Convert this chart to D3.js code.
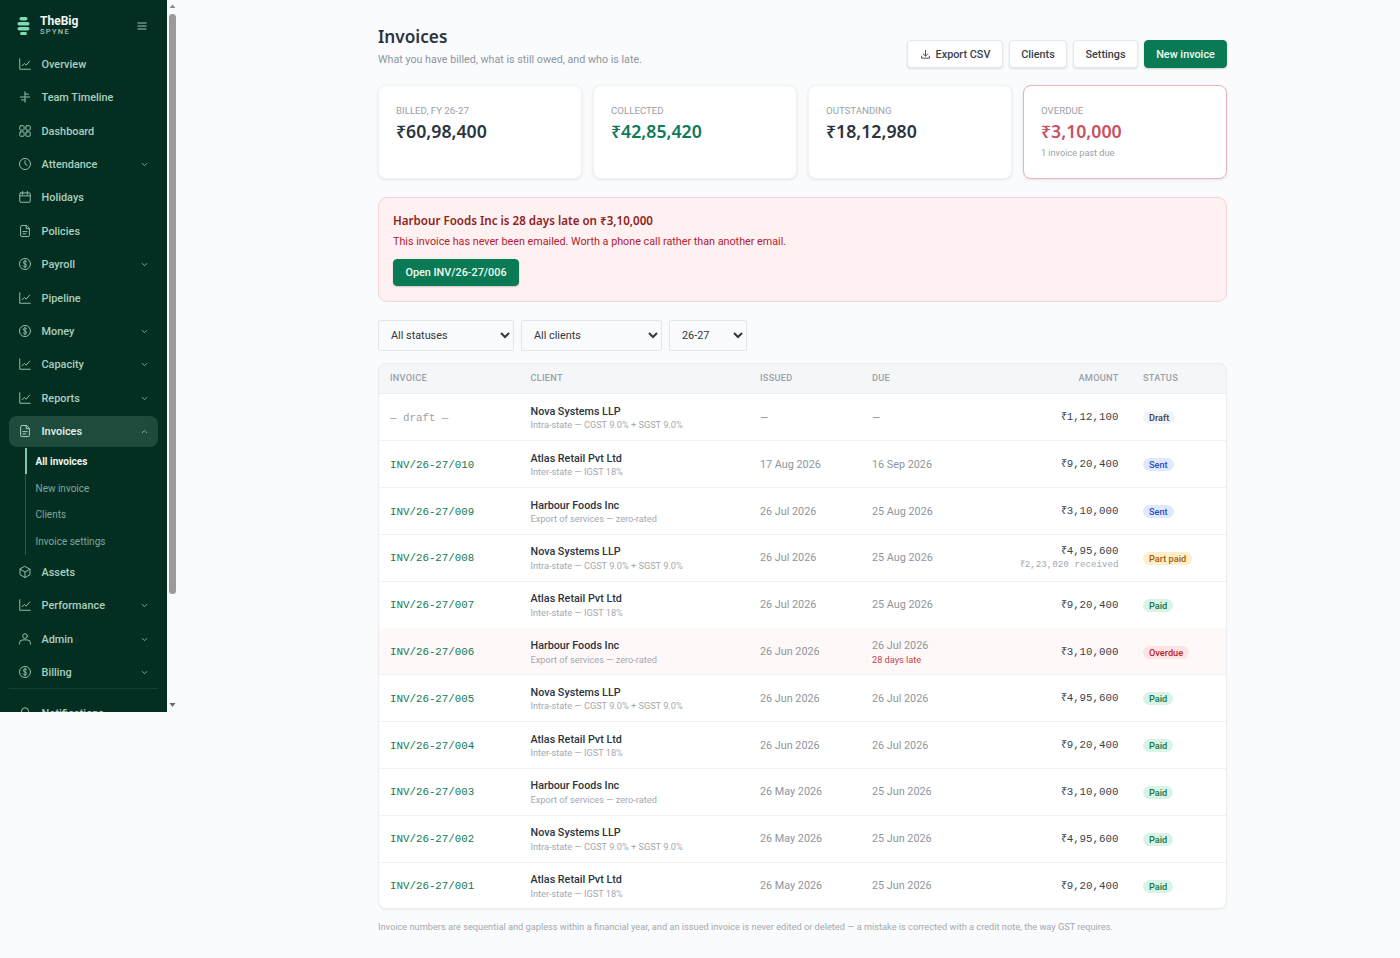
<!DOCTYPE html>
<html><head><meta charset="utf-8">
<script src="https://cdn.jsdelivr.net/npm/d3@7"></script>
<style>
html,body{margin:0;padding:0;background:#fafbfc;width:1400px;height:958px;overflow:hidden;font-family:Roboto,sans-serif;}
#page{position:relative;width:1400px;height:958px;background:#fafbfc;overflow:hidden}
.abs{position:absolute;white-space:nowrap;line-height:1}
#side{position:absolute;left:0;top:0;width:167px;height:712px;background:#052e22;overflow:hidden}
#track{position:absolute;left:167px;top:0;width:10px;height:712px}
#thumb{position:absolute;left:169px;top:14px;width:7px;height:580px;background:#9a9a9a;border-radius:4px}
.card{position:absolute;background:#fff;border-radius:8px;box-shadow:0 1px 3px rgba(16,24,40,.10);box-sizing:border-box}
.btn{position:absolute;box-sizing:border-box;background:#fff;border-radius:4px;border:1px solid #e6e9ec;box-shadow:0 1px 2px rgba(16,24,40,.14);font:500 10.85px Roboto;color:#3a424d;display:flex;align-items:center;justify-content:center;gap:5px}
.btn.green{background:#0a7a55;border-color:#0a7a55;color:#f0fbf6;box-shadow:0 1px 2px rgba(16,24,40,.2)}
select{position:absolute;box-sizing:border-box;height:31px;background:#fafbfc;border:1px solid #e4e7ea;border-radius:2px;font:400 10.85px Roboto;color:#2f3740;padding:0 0 1px 8px;top:320px}
</style></head><body><div id="page"><div id="side"></div><div id="track"></div><div id="thumb"></div><div id="main"></div></div>
<script>
// ---------- data ----------
const navLabels=["Overview","Team Timeline","Dashboard","Attendance","Holidays","Policies","Payroll","Pipeline","Money","Capacity","Reports","Invoices"];
const navIcons=["chart","timeline","grid","clock","calendar","doc","dollar","chart","dollar","chart","chart","doc"];
const navCaret=[0,0,0,1,0,0,1,0,1,1,1,2];
const subLabels=["All invoices","New invoice","Clients","Invoice settings"];
const navLabels2=["Assets","Performance","Admin","Billing","Notifications"];
const navIcons2=["box","chart","user","dollar","bell"];
const navCaret2=[0,1,1,1,0];
const kpiLabels=["BILLED, FY 26-27","COLLECTED","OUTSTANDING","OVERDUE"];
const kpiValues=[6098400,4285420,1812980,310000];
const kpiColors=["#2b3440","#0f7a58","#2b3440","#c9505f"];
const columns=["INVOICE","CLIENT","ISSUED","DUE","AMOUNT","STATUS"];
const invoiceNos=["— draft —","INV/26-27/010","INV/26-27/009","INV/26-27/008","INV/26-27/007","INV/26-27/006","INV/26-27/005","INV/26-27/004","INV/26-27/003","INV/26-27/002","INV/26-27/001"];
const clients=["Nova Systems LLP","Atlas Retail Pvt Ltd","Harbour Foods Inc","Nova Systems LLP","Atlas Retail Pvt Ltd","Harbour Foods Inc","Nova Systems LLP","Atlas Retail Pvt Ltd","Harbour Foods Inc","Nova Systems LLP","Atlas Retail Pvt Ltd"];
const taxNotes=["Intra-state — CGST 9.0% + SGST 9.0%","Inter-state — IGST 18%","Export of services — zero-rated"];
const taxIdx=[0,1,2,0,1,2,0,1,2,0,1];
const issued=["—","17 Aug 2026","26 Jul 2026","26 Jul 2026","26 Jul 2026","26 Jun 2026","26 Jun 2026","26 Jun 2026","26 May 2026","26 May 2026","26 May 2026"];
const due=["—","16 Sep 2026","25 Aug 2026","25 Aug 2026","25 Aug 2026","26 Jul 2026","26 Jul 2026","26 Jul 2026","25 Jun 2026","25 Jun 2026","25 Jun 2026"];
const amounts=[112100,920400,310000,495600,920400,310000,495600,920400,310000,495600,920400];
const received=[null,null,null,223020,null,null,null,null,null,null,null];
const lateNote=[null,null,null,null,null,"28 days late",null,null,null,null,null];
const statuses=["Draft","Sent","Sent","Part paid","Paid","Overdue","Paid","Paid","Paid","Paid","Paid"];
const statusStyles={Draft:["#f1f3f5","#3a424d"],Sent:["#dfe8fd","#2f4fc0"],"Part paid":["#fdf0c8","#a8590f"],Paid:["#d9f4e4","#11774f"],Overdue:["#fde3e3","#b81f2c"]};

// ---------- helpers ----------
const inr=d3.formatLocale({decimal:".",thousands:",",grouping:[3,2],currency:["₹",""]}).format("$,d");
const icons={
 chart:'<path d="M3 3v18h18"/><path d="M7 15l4-4 3 3 6-7"/>',
 timeline:'<path d="M12 3v18M4 12h16M12 7h6M6 17h6"/>',
 grid:'<rect x="3" y="3" width="7.5" height="7.5" rx="1.5"/><rect x="13.5" y="3" width="7.5" height="7.5" rx="1.5"/><rect x="3" y="13.5" width="7.5" height="7.5" rx="1.5"/><rect x="13.5" y="13.5" width="7.5" height="7.5" rx="1.5"/>',
 clock:'<circle cx="12" cy="12" r="9.5"/><path d="M12 6.5V12l3.5 2"/>',
 calendar:'<rect x="3" y="5" width="18" height="16" rx="2"/><path d="M3 10h18M8 2.5v5M16 2.5v5"/>',
 doc:'<path d="M14 2.5H6.5a2 2 0 0 0-2 2v15a2 2 0 0 0 2 2h11a2 2 0 0 0 2-2V8z"/><path d="M14 2.5V8h5.5M8.5 13h7M8.5 17h5"/>',
 dollar:'<circle cx="12" cy="12" r="9.5"/><path d="M15 8.5c-.6-1-1.7-1.5-3-1.5-1.8 0-3 1-3 2.4 0 3.2 6 1.8 6 5 0 1.5-1.3 2.6-3 2.6-1.4 0-2.6-.6-3.2-1.7M12 5.5v13"/>',
 box:'<path d="M12 2.5l8.5 4.8v9.4L12 21.5l-8.5-4.8V7.3z"/><path d="M3.5 7.3L12 12l8.5-4.7M12 12v9.5"/>',
 user:'<circle cx="12" cy="7" r="4"/><path d="M2.5 21v-1.5a6 6 0 0 1 6-6h7a6 6 0 0 1 6 6V21"/>',
 bell:'<path d="M6 9a6 6 0 0 1 12 0c0 7 3 8 3 8H3s3-1 3-8"/>',
 download:'<path d="M12 3v12M7 10.5l5 5 5-5M3.5 15.5V20h17v-4.5"/>'
};
const icon=(name,x,y,s,color,w)=>`<svg style="position:absolute;left:${x}px;top:${y}px" width="${s}" height="${s}" viewBox="0 0 24 24" fill="none" stroke="${color}" stroke-width="${w||1.6}" stroke-linecap="round" stroke-linejoin="round">${icons[name]}</svg>`;
const caret=(x,y,up,color)=>`<svg style="position:absolute;left:${x}px;top:${y}px" width="7" height="5" viewBox="0 0 7 5" fill="none" stroke="${color}" stroke-width="1"><path d="${up?'M1 4l2.5-2.5L6 4':'M1 1.2l2.5 2.5L6 1.2'}"/></svg>`;
function text(sel,t,x,y,o={}){ // y is the vertical centre
  const e=sel.append("div").attr("class","abs").text(t)
    .style("top",y+"px").style("font",`${o.w||400} ${o.s||12}px ${o.f||"Roboto"}`).style("color",o.c||"#333")
    .style("line-height","1");
  if(o.right!=null) e.style("right",(1400-o.right)+"px"); else e.style("left",x+"px");
  e.style("transform","translateY(-50%)");
  if(o.ls) e.style("letter-spacing",o.ls);
  return e;
}

// ---------- sidebar ----------
const side=d3.select("#side");
side.append("div").html(`<svg style="position:absolute;left:17px;top:16px" width="13" height="20"><g fill="#7fdcb4"><rect x="2.5" y="1" width="8" height="3.6" rx="1.8"/><rect x="0.5" y="6" width="12" height="3.6" rx="1.8"/><rect x="0.5" y="11" width="12" height="3.6" rx="1.8"/><rect x="3" y="16" width="7" height="3" rx="1.5"/></g></svg>`);
text(side,"TheBig",40,20.5,{s:12,w:700,c:"#f2f8f5"});
text(side,"SPYNE",40,32,{s:7.5,w:500,c:"#9fc5b4",ls:"1.3px"});
side.append("div").html(`<svg style="position:absolute;left:137px;top:22px" width="10" height="8" fill="none" stroke="#9fc5b4" stroke-width="1"><path d="M0.5 1h9M0.5 4h9M0.5 7h9"/></svg>`);
const navColor="#a9d0bf";
const navY=d3.scaleLinear().domain([0,11]).range([65,432]);
side.append("div").style("position","absolute").style("left","9px").style("top","416px").style("width","149px").style("height","31px").style("background","#1f4b3c").style("border-radius","8px");
navLabels.forEach((l,i)=>{
  const y=navY(i),active=i===11;
  text(side,l,41.5,y,{s:10.9,w:500,c:active?"#e6f3ed":navColor});
  side.append("div").html(icon(navIcons[i],18,y-8,14,active?"#a9d0bf":"#8fc0aa",1.7));
  if(navCaret[i]) side.append("div").html(caret(141,y-3,navCaret[i]===2,"#7fa997"));
});
side.append("div").style("position","absolute").style("left","25px").style("top","448px").style("width","1px").style("height","107px").style("background","#2a5a49");
side.append("div").style("position","absolute").style("left","25px").style("top","448px").style("width","2px").style("height","26px").style("background","#7fc8a8");
const subY=d3.scaleLinear().domain([0,3]).range([462,542]);
subLabels.forEach((l,i)=>text(side,l,35.5,subY(i),{s:10,w:i?400:700,c:i?"#7fa997":"#eef7f3"}));
const navY2=d3.scaleLinear().domain([0,3]).range([573,673]);
navLabels2.forEach((l,i)=>{
  const y=navY2(i)+(i===4?8:0);
  text(side,l,41.5,y,{s:10.9,w:500,c:navColor});
  side.append("div").html(icon(navIcons2[i],18,y-8,14,"#8fc0aa",1.7));
  if(navCaret2[i]) side.append("div").html(caret(141,y-3,false,"#7fa997"));
});
side.append("div").style("position","absolute").style("left","9px").style("top","688px").style("width","149px").style("height","1px").style("background","#14402f");
d3.select("#track").html(`<svg width="10" height="712" style="position:absolute;left:0;top:0"><path d="M2.5 8L5.5 4.5L8.5 8z" fill="#8a8a8a"/><path d="M2.5 703L5.5 707L8.5 703z" fill="#6a6a6a"/></svg>`);

// ---------- header ----------
const main=d3.select("#main");
text(main,"Invoices",378,37,{s:17.2,w:600,f:"'Noto Sans'",c:"#2b3440"});
text(main,"What you have billed, what is still owed, and who is late.",378,60,{s:10.73,c:"#8f959c"});
const btns=[["Export CSV",907,96,0],["Clients",1009,58,0],["Settings",1073,65,0],["New invoice",1144,83,1]];
btns.forEach(([t,x,w,g])=>{
  const b=main.append("div").attr("class","btn"+(g?" green":"")).style("left",x+"px").style("top","40px").style("width",w+"px").style("height","28px");
  if(t==="Export CSV"){b.append("span").style("width","11px").style("height","11px").style("position","relative").html(icon("download",0,0,11,"#3a424d",2));}
  b.append("span").text(t);
});

// ---------- KPI cards ----------
const cardX=d3.scaleBand().domain(kpiLabels).range([378,1227]).paddingInner(0.051);
kpiLabels.forEach((l,i)=>{
  const x=cardX(l),over=i===3;
  main.append("div").attr("class","card").style("left",x+"px").style("top","85px").style("width",cardX.bandwidth()+"px").style("height","94px")
    .style("border",over?"1px solid #e8b4bb":"1px solid #f1f3f5");
  text(main,l,x+18,110.5,{s:9.7,c:"#9ba1a8"});
  text(main,inr(kpiValues[i]),x+18,131.5,{s:17.7,w:600,f:"'Noto Sans'",c:kpiColors[i]});
  if(over) text(main,"1 invoice past due",x+18,153.5,{s:9.15,c:"#9ba1a8"});
});

// ---------- alert ----------
main.append("div").style("position","absolute").style("box-sizing","border-box").style("left","378px").style("top","197px").style("width","849px").style("height","105px").style("background","#fff1f1").style("border","1px solid #fbd2d4").style("border-radius","9px");
text(main,"Harbour Foods Inc is 28 days late on ₹3,10,000",393,221,{s:11.6,w:600,f:"'Noto Sans'",c:"#8d1f22"});
text(main,"This invoice has never been emailed. Worth a phone call rather than another email.",393,241.5,{s:10.78,c:"#b3202f"});
main.append("div").attr("class","btn green").style("left","393px").style("top","259px").style("width","126px").style("height","27px").style("font-size","10.85px").text("Open INV/26-27/006");

// ---------- filters ----------
[["All statuses",378,136],["All clients",521,141],["26-27",669,78]].forEach(([t,x,w])=>{
  main.append("select").style("left",x+"px").style("width",w+"px").append("option").text(t);
});

// ---------- table ----------
main.append("div").attr("class","card").style("left","378px").style("top","363px").style("width","849px").style("height","546px").style("border","1px solid #eceef0").style("box-shadow","0 1px 2px rgba(16,24,40,.06)");
main.append("div").style("position","absolute").style("left","378px").style("top","363px").style("width","849px").style("height","31px").style("background","#f4f6f7").style("border","1px solid #eceef0").style("border-radius","8px 8px 0 0").style("box-sizing","border-box");
const colX={INVOICE:390,CLIENT:530.5,ISSUED:760,DUE:872,AMOUNT:1118.5,STATUS:1143};
columns.forEach(c=>text(main,c,colX[c],378,{s:9.2,w:500,c:"#9ba1a8",ls:".25px",right:c==="AMOUNT"?colX[c]:null}));
const rowY=d3.scaleBand().domain(invoiceNos.map((d,i)=>i)).range([394,909]);
invoiceNos.forEach((inv,i)=>{
  const top=rowY(i),h=rowY.bandwidth(),cy=top+h/2+.5;
  if(statuses[i]==="Overdue") main.append("div").style("position","absolute").style("left","379px").style("top",top+"px").style("width","847px").style("height",h+"px").style("background","#fff8f8");
  if(i<invoiceNos.length-1) main.append("div").style("position","absolute").style("left","379px").style("top",(top+h-.5)+"px").style("width","847px").style("height","1px").style("background","#eff1f3");
  text(main,inv,390,cy,{s:10.8,f:"'Liberation Mono'",c:i?"#0f7a58":"#9ba1a8"});
  text(main,clients[i],530.5,cy-6,{s:10.75,w:500,c:"#2b3440"});
  text(main,taxNotes[taxIdx[i]],530.5,cy+7.5,{s:9.2,c:"#a3a9af"});
  text(main,issued[i],760,cy,{s:10.8,c:"#8f959c"});
  if(lateNote[i]){
    text(main,due[i],872,cy-6.5,{s:10.8,c:"#8f959c"});
    text(main,lateNote[i],872,cy+7.5,{s:9.2,c:"#c9404a"});
  } else text(main,due[i],872,cy,{s:10.8,c:"#8f959c"});
  if(received[i]!=null){
    text(main,inr(amounts[i]),0,cy-7.5,{s:10.8,f:"'Liberation Mono'",c:"#3a424d",right:1118.5});
    text(main,inr(received[i])+" received",0,cy+6.5,{s:9.2,f:"'Liberation Mono'",c:"#a3a9af",right:1118.5});
  } else text(main,inr(amounts[i]),0,cy-.5,{s:10.8,f:"'Liberation Mono'",c:"#3a424d",right:1118.5});
  const st=statusStyles[statuses[i]];
  main.append("div").attr("class","abs").text(statuses[i])
    .style("left","1143px").style("top",(cy-6.5)+"px").style("height","13px").style("padding","0 6px").style("border-radius","7px")
    .style("background",st[0]).style("color",st[1]).style("font","500 9.2px/13px Roboto");
});
text(main,"Invoice numbers are sequential and gapless within a financial year, and an issued invoice is never edited or deleted — a mistake is corrected with a credit note, the way GST requires.",378,927,{s:9.22,c:"#a3a9af"});
</script></body></html>
